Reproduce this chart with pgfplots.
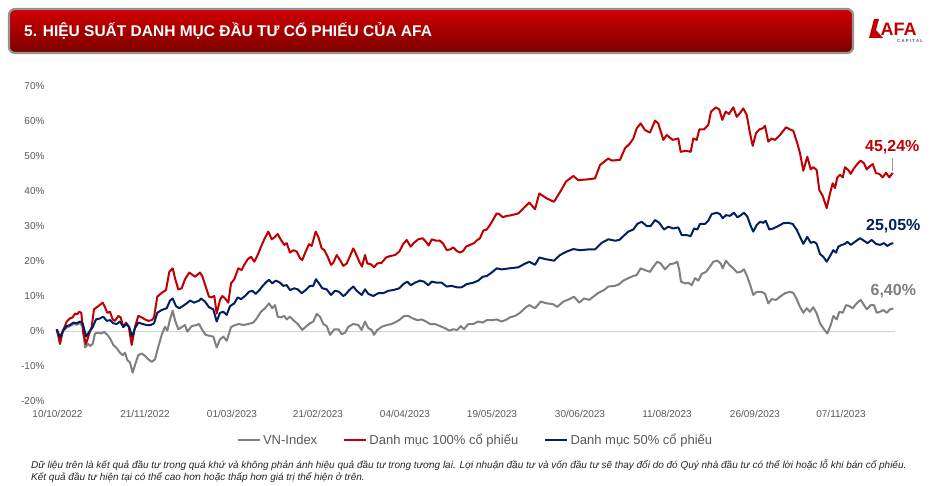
\documentclass[border=0pt]{standalone}
\usepackage{pgfplots}
\pgfplotsset{compat=1.18}
\usepackage{fontspec}
\setmainfont{Liberation Sans}
\definecolor{afared}{HTML}{C00000}
\definecolor{afanavy}{HTML}{002060}
\definecolor{afagrey}{HTML}{808080}
\definecolor{txtgrey}{HTML}{595959}
\definecolor{bartop}{HTML}{D00000}
\definecolor{barbot}{HTML}{7A0000}
\begin{document}
\begin{tikzpicture}
\path[use as bounding box, fill=white] (0pt,0pt) rectangle (937pt,-486pt);
% title bar
\shade[top color=bartop, bottom color=barbot, rounded corners=6pt] (9pt,-9pt) rectangle (853pt,-53pt);
\draw[rounded corners=6pt, line width=2.2pt, draw=afagrey!85] (9pt,-9pt) rectangle (853pt,-53pt);
\node[anchor=west, text=white, inner sep=0pt, font=\bfseries\fontsize{15.5}{18}\selectfont] at (24pt,-31pt) {5. HIỆU SUẤT DANH MỤC ĐẦU TƯ CỔ PHIẾU CỦA AFA};
% logo
\fill[afared] (869pt,-38pt) -- (874pt,-19pt) -- (879pt,-19pt) -- (876pt,-30pt) -- (883pt,-38pt) -- cycle;
\node[anchor=west, text=afared, inner sep=0pt, font=\bfseries\fontsize{18}{20}\selectfont] at (880.5pt,-29pt) {AFA};
\node[anchor=west, text=txtgrey, inner sep=0pt, font=\bfseries\fontsize{4.3}{5}\selectfont] at (897pt,-41pt) {C A P I T A L};
\begin{axis}[
  at={(56pt,-401pt)}, anchor=south west, scale only axis,
  width=839pt, height=315pt,
  xmin=56, xmax=895, ymin=-20, ymax=70,
  clip=false,
  axis line style={draw=none}, tick style={draw=none},
  xtick={57.5,145,232,318,405,492,580,667,755,841},
  xticklabels={10/10/2022,21/11/2022,01/03/2023,21/02/2023,04/04/2023,19/05/2023,30/06/2023,11/08/2023,26/09/2023,07/11/2023},
  ytick={-20,-10,0,10,20,30,40,50,60,70},
  yticklabel={\pgfmathprintnumber{\tick}\%},
  /pgf/number format/assume math mode=true,
  ticklabel style={font=\fontsize{10}{12}\selectfont, text=txtgrey},
  xticklabel style={yshift=-6pt},
  yticklabel style={xshift=-8pt},
  extra y ticks={0}, extra y tick labels={},
  extra y tick style={grid=major, major grid style={draw=black!18, line width=0.9pt}},
  legend style={at={(0.5,-0.124)}, anchor=center, draw=none, fill=none,
    font=\fontsize{13}{15}\selectfont, text=txtgrey,
    /tikz/every even column/.append style={column sep=24pt}},
  legend columns=3,
  legend image code/.code={\draw[#1, line width=2.2pt] (0pt,0pt) -- (22pt,0pt);},
  every axis plot/.append style={line width=2pt, line join=round},
]
\addplot[afagrey, no markers] coordinates {
(56.7,0.5)(60,-2.0)(63.3,0.0)(66.7,1.0)(70,1.4)(73.3,2.0)(76.7,1.8)(80,2.3)(82.7,1.2)(85,-4.7)(88.3,-3.7)(90,-4.3)(92.7,-3.7)(95,-0.7)(98.3,-0.5)(101.7,-0.7)(104,-0.2)(107.3,-1.1)(110,-2.1)(113.3,-4.0)(116.7,-4.9)(120,-6.2)(122.7,-6.9)(125,-6.2)(127.3,-8.3)(130,-9.0)(132.7,-11.9)(135,-9.7)(138.3,-6.9)(141.7,-6.4)(145,-7.1)(148.3,-8.1)(151.7,-8.8)(155,-8.1)(158.3,-4.5)(161.7,-1.1)(165,1.2)(167.3,0.1)(170,3.3)(172.7,5.8)(175,3.1)(178.3,0.5)(181.7,1.1)(185,1.7)(187.3,-0.2)(191.7,1.4)(196.7,1.7)(199,2.0)(202.3,0.3)(205.7,-1.1)(210,-1.4)(213.3,-1.6)(216.7,-4.7)(220,-2.4)(223.3,-1.6)(226.7,-2.8)(231,1.1)(235,1.7)(239,2.0)(243.3,1.7)(248.3,2.0)(253.3,2.4)(256.7,3.6)(261,5.5)(265,6.5)(269,7.9)(272.3,6.5)(275,7.4)(277.7,4.1)(281,3.9)(284.3,4.3)(286.7,3.3)(290,4.1)(293.3,3.1)(297.7,2.0)(302.3,0.3)(305.7,1.2)(310,2.2)(313.3,2.7)(316.7,4.9)(320,4.1)(323.3,2.0)(326.7,1.4)(330,-1.1)(334.3,0.5)(338.3,0.5)(341.7,-0.9)(345,-0.5)(348.3,1.2)(353.3,2.0)(358.3,1.7)(361.7,0.3)(365,2.7)(368.3,0.8)(371.7,0.3)(374,-1.1)(377.3,0.3)(381.7,1.2)(386.7,1.7)(391.7,2.0)(396.7,2.7)(400,3.3)(404,4.3)(408.3,4.3)(412.7,3.6)(417.3,3.1)(421.7,3.3)(426,2.7)(430,2.0)(435,2.0)(440,1.4)(445,0.8)(449.3,0.1)(453.3,0.5)(457.3,0.3)(460.7,1.4)(464,0.5)(468.3,2.0)(473.3,2.0)(478.3,2.7)(482.7,2.4)(486.7,3.1)(491.7,3.1)(496.7,3.3)(501.7,2.7)(506.7,3.3)(510,3.9)(515,4.3)(520,5.2)(526,6.8)(529.3,7.4)(535,6.5)(540.7,8.4)(546.7,7.9)(552.7,7.7)(557.3,6.9)(563.3,8.4)(569.3,9.1)(574,9.8)(579.3,8.1)(584,9.3)(589.3,8.9)(593.3,9.8)(598.3,10.9)(604,11.7)(608.3,12.7)(615,12.9)(619.3,13.4)(623.3,14.4)(628.3,15.1)(633.3,15.7)(636.7,16.0)(640.7,17.9)(645,17.4)(650,16.9)(654,18.6)(657.3,19.8)(660.7,19.3)(665,17.6)(670,19.1)(674,19.3)(677.3,19.8)(679.3,17.4)(681,14.1)(685,13.6)(688.3,13.8)(691.7,13.1)(695,15.1)(698.3,14.4)(701.7,16.3)(706,16.9)(710,18.4)(713.3,19.8)(717.3,20.1)(720.7,19.3)(722.7,17.9)(726,20.1)(729.3,18.9)(733.3,17.9)(737.3,16.7)(740.7,16.9)(744,17.6)(747.3,15.5)(750.7,12.7)(753.3,10.3)(756.7,11.2)(761.7,11.2)(765,10.6)(768.3,7.9)(771.7,9.1)(776,8.9)(780,9.8)(785,10.8)(790,11.2)(793.3,10.9)(796.7,9.1)(800,6.9)(803.3,5.2)(806.7,6.5)(810,5.5)(813.3,6.8)(816.7,5.0)(820,2.2)(824,0.5)(827.3,-0.7)(830.7,1.7)(833.3,4.3)(836.7,3.3)(839.3,5.5)(842.7,5.2)(846,7.4)(849.3,7.1)(852.7,6.5)(856.7,7.9)(860.7,8.9)(864,7.4)(866.7,6.2)(870.7,7.4)(874,7.4)(876.7,5.2)(880,5.5)(883.3,6.0)(886.7,5.2)(890,6.2)(893.3,6.4)
};
\addlegendentry{VN-Index}
\addplot[afared, no markers] coordinates {
(56.7,0.5)(60,-3.7)(62.7,-0.2)(66.7,2.7)(70,3.6)(72.7,3.9)(75,5.0)(77.3,4.8)(79.3,5.5)(81.3,5.2)(83.3,-0.7)(86,-3.7)(89.3,-0.7)(91.7,1.2)(94,6.2)(98.3,7.1)(102.7,8.1)(105,6.8)(107.3,5.2)(110,5.5)(112.7,3.3)(115,2.9)(118.3,4.3)(120.7,3.9)(123.3,1.1)(126,2.4)(128.7,1.2)(131.7,-4.0)(135,1.2)(138.3,4.3)(141.7,3.9)(145,3.3)(148.3,2.9)(151.7,3.1)(154,3.9)(157.3,9.8)(161.7,10.9)(166,11.7)(169.3,16.9)(172.7,17.9)(175,15.1)(178.3,11.9)(181.7,12.2)(185,14.8)(189.3,16.7)(192.7,16.0)(195,15.5)(200,16.7)(202.3,15.7)(205.7,12.7)(209,9.8)(211.7,9.6)(214.3,10.0)(216.7,5.0)(220,8.9)(222.3,10.0)(225.7,9.1)(228.3,8.1)(231,13.6)(234.3,14.8)(238.3,17.9)(241.7,17.4)(244.3,18.9)(247.7,20.5)(251,21.2)(254.3,19.8)(257.7,21.7)(261,24.1)(264.3,26.2)(268.3,28.4)(271.7,26.2)(275,26.9)(277.7,27.7)(281,26.0)(284.3,24.6)(286.7,25.1)(290,22.4)(293.3,23.1)(296.7,22.7)(300,20.8)(302.3,20.3)(305.7,22.7)(309,24.8)(311.7,24.3)(315.7,28.4)(318.3,26.9)(321.7,23.6)(324.3,23.1)(327.7,21.2)(331,18.9)(333.3,19.5)(336.7,21.7)(340,20.3)(343.3,18.6)(346.7,19.3)(350,21.4)(353.3,23.6)(356,22.0)(359.3,19.8)(362,18.4)(365,21.7)(367.3,19.3)(370.7,19.1)(374,18.2)(377.3,19.3)(381.7,19.5)(386,21.0)(390,21.4)(395,21.7)(399.3,22.7)(403.3,24.9)(406.7,26.0)(410.7,24.1)(414,25.2)(418.3,26.2)(422.7,26.5)(426,25.5)(428.7,24.4)(431.7,26.2)(436,25.8)(440,25.8)(443.3,24.9)(446.7,23.1)(450,23.3)(453.3,23.9)(456.7,22.9)(460,22.4)(463.3,22.9)(466,24.1)(470,24.6)(474,25.1)(477.3,26.0)(480,26.5)(483.3,28.7)(486.7,29.0)(490,30.3)(493.3,31.9)(496.7,33.6)(499.3,33.4)(502.7,32.5)(506.7,32.9)(510,33.0)(518.3,33.6)(523.3,35.0)(529.3,36.7)(535,34.8)(539.3,39.3)(546.7,37.9)(554,36.9)(558.3,38.9)(561.7,40.5)(566,42.7)(573.3,44.3)(578.3,43.1)(586.7,43.3)(595,43.6)(600,47.4)(608.3,49.3)(611.7,48.7)(620,48.9)(625,52.2)(630,53.6)(633.3,55.0)(636.7,57.9)(640.7,59.3)(645,57.4)(650,56.7)(655,60.1)(658.3,59.3)(663.3,54.6)(666.7,56.0)(672.7,54.6)(678.3,55.0)(680.7,51.2)(686,51.5)(690.7,51.2)(693.3,55.0)(696.7,54.6)(699.3,57.6)(704,57.6)(708.3,58.9)(711,62.7)(716,63.9)(719.3,63.3)(722.3,60.3)(725.7,62.7)(729,62.0)(733.3,63.9)(736.7,61.2)(739.3,62.0)(743.3,63.6)(746.7,61.7)(750,56.5)(752.7,52.9)(756,56.5)(759.3,57.6)(762.7,57.9)(765,58.6)(768.3,54.1)(771.7,55.0)(775,54.6)(780,56.0)(786,58.2)(790,57.6)(793.3,57.2)(797.3,53.6)(800,50.8)(803.3,45.8)(807.3,49.8)(810.7,46.2)(813.3,46.8)(816.7,46.0)(819.3,40.3)(822.7,38.6)(826.7,35.1)(830,39.3)(832.7,42.2)(835,40.8)(837.3,43.9)(840,44.6)(842.7,43.9)(845,46.8)(848.3,46.0)(850.7,44.9)(854,46.5)(857.3,47.7)(860.7,48.7)(864,47.9)(866.7,46.2)(870,47.1)(872.7,47.7)(876,45.1)(879.3,44.9)(882.7,43.9)(886,45.2)(889.3,43.9)(892.7,45.2)
};
\addlegendentry{Danh mục 100\% cổ phiếu}
\addplot[afanavy, no markers] coordinates {
(56.7,0.5)(60,-1.8)(63.3,0.3)(66.7,1.4)(70,1.7)(73.3,2.4)(76.7,2.2)(80,2.7)(82.7,2.2)(86,-1.6)(89.3,-0.2)(92.7,1.1)(96,3.3)(100,3.6)(103.3,4.1)(106.7,2.9)(110,3.1)(113.3,2.2)(116.7,2.0)(120,2.7)(123.3,1.2)(126.7,2.0)(129.3,1.1)(132,-1.6)(135,0.8)(138.3,2.4)(142.7,2.0)(146.7,1.7)(150.7,1.7)(154,2.2)(157.3,5.2)(161.7,6.0)(166.7,6.5)(170,8.7)(172.7,9.3)(176,7.1)(179.3,6.5)(182.7,7.1)(186.7,7.9)(190,8.7)(194,8.1)(199.3,8.7)(201,9.3)(205,8.4)(209,6.8)(213.3,6.2)(216.7,2.7)(220,5.2)(223.3,5.5)(226.7,4.6)(230,7.1)(234.3,7.9)(237.7,9.6)(241,9.1)(245,10.0)(249,11.2)(252.3,11.5)(255.7,10.6)(260,11.9)(263.3,13.1)(266.7,14.1)(269,14.6)(272.3,13.6)(275.7,14.4)(280,13.8)(283.3,12.9)(286.7,13.1)(290,11.7)(294.3,12.2)(297.7,11.9)(301.7,10.8)(305.7,11.7)(310,12.9)(313.3,12.9)(316,14.8)(319,13.6)(322.3,12.2)(326.7,11.9)(331,10.3)(335,11.5)(339,11.2)(343.3,10.0)(345,10.3)(349.3,11.7)(353.3,12.7)(356.7,11.5)(361.7,10.3)(365,11.9)(368.3,10.6)(373.3,10.0)(378.3,10.8)(383.3,10.8)(388.3,11.5)(393.3,11.7)(399.3,12.2)(403.3,13.4)(407.3,14.1)(410.7,13.1)(415,13.8)(420,14.4)(424,14.1)(428.3,13.1)(431.7,14.1)(436.7,13.8)(441.7,13.8)(446.7,12.7)(451.7,12.9)(456.7,12.5)(461.7,12.5)(466.7,13.4)(473.3,13.8)(478.3,14.4)(482.7,15.5)(486.7,15.7)(491.7,16.7)(496.7,17.9)(501.7,17.6)(509.3,17.9)(518.3,18.2)(524,19.1)(529.3,19.8)(535,18.9)(539.3,21.0)(546,20.5)(554,20.1)(560,21.7)(566.7,22.7)(573.3,23.4)(580,23.1)(588.3,23.3)(595,23.3)(601.7,25.2)(608.3,26.2)(615,25.8)(619.3,26.0)(623.3,27.1)(628.3,28.4)(633.3,29.0)(637.3,30.6)(641.7,31.2)(646.7,30.0)(650.7,30.0)(655,31.7)(659.3,30.9)(664,29.0)(668.3,29.8)(673.3,29.3)(678.3,29.6)(681.7,27.4)(686.7,27.4)(690.7,27.1)(694,29.3)(697.3,29.0)(700,30.6)(705,30.6)(708.3,31.5)(711.7,33.4)(716.7,33.8)(720,33.4)(722.7,32.2)(726,33.1)(730,32.9)(734,33.8)(737.3,32.5)(740,32.9)(744,33.8)(747.3,32.7)(750.7,30.0)(753.3,28.4)(756.7,30.3)(760,31.2)(763.3,30.9)(765.7,31.5)(769.3,29.0)(773.3,29.3)(778.3,30.0)(783.3,30.8)(788.3,30.9)(792.7,30.6)(796.7,28.9)(800,26.9)(803.3,24.9)(807.3,26.9)(810.7,25.2)(814,25.5)(816.7,24.9)(820,22.0)(823.3,21.2)(826.7,19.8)(830,21.4)(833.3,23.1)(836,22.4)(838.3,24.1)(841.7,24.6)(845,24.9)(847.3,25.5)(850.7,24.6)(855,25.5)(860,26.5)(864,25.8)(867.3,25.1)(871.7,26.0)(876,24.9)(880,24.6)(884,25.1)(887.3,24.3)(890.7,24.9)(893.3,25.1)
};
\addlegendentry{Danh mục 50\% cổ phiếu}
\draw[afagrey!80, line width=0.6pt] (axis cs:892.3,49.3) -- (axis cs:892.3,45.6);
\node[text=afared, font=\bfseries\fontsize{16}{18}\selectfont] at (axis cs:892.3,52.6) {45,24\%};
\node[text=afanavy, font=\bfseries\fontsize{16}{18}\selectfont] at (axis cs:893.3,30.0) {25,05\%};
\node[text=afagrey, font=\bfseries\fontsize{16}{18}\selectfont] at (axis cs:893.3,11.4) {6,40\%};
\end{axis}
% footnote
\node[anchor=west, inner sep=0pt, font=\itshape\fontsize{10}{12}\selectfont, text=black!85] at (31pt,-465pt) {Dữ liệu trên là kết quả đầu tư trong quá khứ và không phản ánh hiệu quả đầu tư trong tương lai. Lợi nhuận đầu tư và vốn đầu tư sẽ thay đổi do đó Quý nhà đầu tư có thể lời hoặc lỗ khi bán cổ phiếu.};
\node[anchor=west, inner sep=0pt, font=\itshape\fontsize{10}{12}\selectfont, text=black!85] at (31pt,-478pt) {Kết quả đầu tư hiện tại có thể cao hơn hoặc thấp hơn giá trị thể hiện ở trên.};
\end{tikzpicture}
\end{document}
